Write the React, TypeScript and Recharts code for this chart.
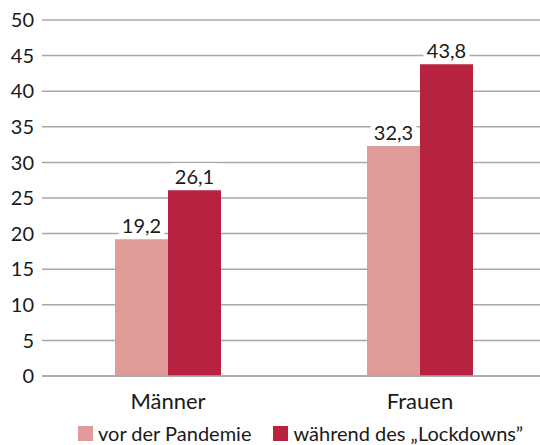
import React from "react";
import { BarChart, Bar, XAxis, YAxis, CartesianGrid, Legend, LabelList } from "recharts";

const categories = ["Männer", "Frauen"];
const vorDerPandemie = [19.2, 32.3];
const waehrendLockdown = [26.1, 43.8];
const yTicks = [0, 5, 10, 15, 20, 25, 30, 35, 40, 45, 50];
const seriesNames = ["vor der Pandemie", "während des „Lockdowns”"];

const data = categories.map((c, i) => ({ name: c, a: vorDerPandemie[i], b: waehrendLockdown[i] }));

const COLORS = ["#E09A98", "#B72240"];
const FONT = "Lato, 'Open Sans', sans-serif";
const TEXT = "#1a1a1a";

const fmt = (v: number) => v.toFixed(1).replace(".", ",");

const ValueLabel = (props: any) => {
  const { x, y, width, value } = props;
  const cx = x + width / 2;
  const s = fmt(value);
  const w = s.length * 10 + 6;
  return (
    <g>
      <rect x={cx - w / 2} y={y - 27} width={w} height={23} fill="#fff" />
      <text x={cx} y={y - 6} textAnchor="middle" fontSize={20} fontFamily={FONT} fill={TEXT}>
        {s}
      </text>
    </g>
  );
};

const LegendContent = () => (
  <div style={{ display: "flex", alignItems: "center", paddingLeft: 78, fontFamily: FONT, fontSize: 20, color: TEXT, lineHeight: "24px", height: 24 }}>
    {seriesNames.map((n, i) => (
      <div key={n} style={{ display: "flex", alignItems: "center", marginRight: 22 }}>
        <div style={{ width: 15, height: 15, background: COLORS[i], marginRight: 5 }} />
        <span>{n}</span>
      </div>
    ))}
  </div>
);

export default function App() {
  return (
    <div style={{ position: "absolute", left: 0, top: 0, width: 540, height: 445, overflow: "hidden", background: "#fff" }}>
      <BarChart
        width={546}
        height={445}
        data={data}
        margin={{ top: 20, right: 0, left: 0, bottom: 0 }}
        barCategoryGap={73}
        barGap={0}
      >
        <CartesianGrid vertical={false} stroke="#A8A8A8" strokeWidth={1.5} />
        <XAxis
          dataKey="name"
          axisLine={{ stroke: "#A8A8A8", strokeWidth: 1.5 }}
          tickLine={false}
          height={45}
          tick={{ fontSize: 22, fontFamily: FONT, fill: TEXT }}
          tickMargin={11}
        />
        <YAxis
          width={42}
          domain={[0, 50]}
          ticks={yTicks}
          axisLine={false}
          tickLine={false}
          interval={0}
          tick={{ fontSize: 20, fontFamily: FONT, fill: TEXT }}
        />
        <Legend verticalAlign="bottom" height={24} content={<LegendContent />} />
        <Bar dataKey="a" name={seriesNames[0]} fill={COLORS[0]} barSize={53} isAnimationActive={false}>
          <LabelList dataKey="a" content={<ValueLabel />} />
        </Bar>
        <Bar dataKey="b" name={seriesNames[1]} fill={COLORS[1]} barSize={53} isAnimationActive={false}>
          <LabelList dataKey="b" content={<ValueLabel />} />
        </Bar>
      </BarChart>
    </div>
  );
}
